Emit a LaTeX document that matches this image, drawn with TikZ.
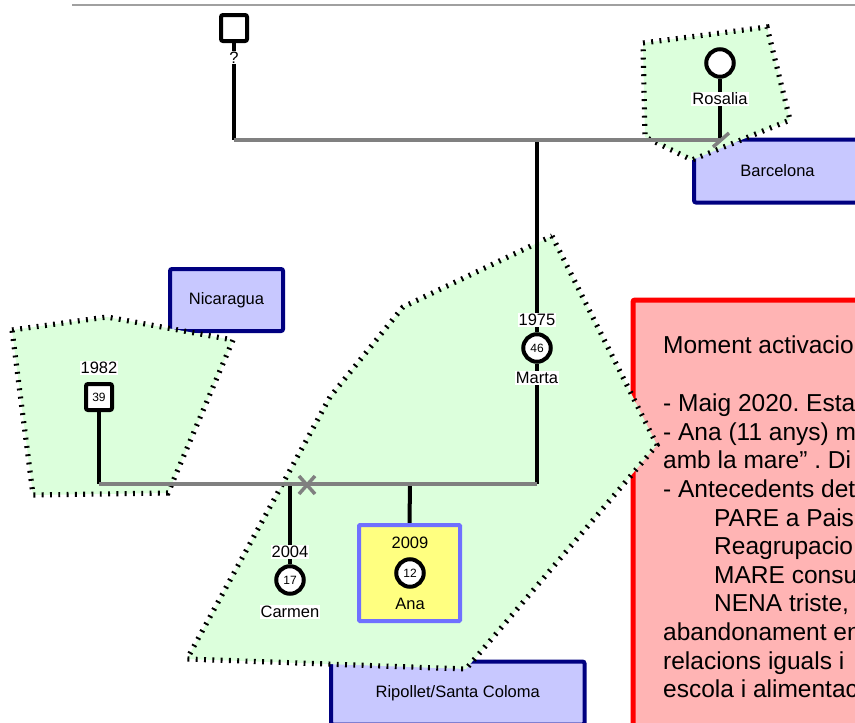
\documentclass[tikz,border=0pt]{standalone}
\usepackage{fontspec}
\setmainfont{Liberation Sans}
\definecolor{regfill}{RGB}{220,255,220}
\definecolor{boxfill}{RGB}{200,200,255}
\definecolor{boxline}{RGB}{0,0,128}
\definecolor{notefill}{RGB}{255,180,180}
\definecolor{noteline}{RGB}{255,0,0}
\definecolor{anafill}{RGB}{255,255,128}
\definecolor{analine}{RGB}{112,112,255}
\definecolor{coupleg}{RGB}{128,128,128}
\definecolor{topg}{RGB}{160,160,160}
\pgfdeclarelayer{back}
\pgfdeclarelayer{mid}
\pgfsetlayers{back,mid,main}
\frenchspacing
\begin{document}
\begin{tikzpicture}[x=1pt,y=-1pt,
  lbl/.style={font=\fontsize{16.5}{18}\selectfont, fill=white, inner sep=1pt},
  lblnf/.style={font=\fontsize{16.5}{18}\selectfont, inner sep=1pt},
  age/.style={font=\fontsize{12}{13}\selectfont},
  female/.style={circle, draw=black, line width=4pt, fill=white, minimum size=27.5pt, inner sep=0pt, age},
  male/.style={rectangle, rounded corners=2pt, draw=black, line width=4pt, fill=white, minimum size=26pt, inner sep=0pt, age},
  place/.style={rectangle, draw=boxline, fill=boxfill, line width=4pt, rounded corners=2pt, font=\fontsize{16.5}{18}\selectfont, inner sep=0pt},
  region/.style={fill=regfill, postaction={draw=black, line width=5.2pt, dash pattern=on 1.9pt off 6.4pt}},
  couple/.style={draw=coupleg, line width=3.5pt},
  desc/.style={draw=black, line width=4pt},
  notetxt/.style={font=\fontsize{24.5}{28}\selectfont, anchor=base west, inner sep=0pt},
]
\useasboundingbox (0,0) rectangle (855,723);
\clip (0,0) rectangle (855,723);

\begin{pgfonlayer}{back}
  \coordinate (tl1) at (72,5);
  \coordinate (tl2) at (855,5);
  \draw[topg, line width=1.5pt] (tl1) -- (tl2);
  \node[place, minimum width=113pt, minimum height=62pt] (nic) at (226.5,300) {Nicaragua};
  \node[place, minimum width=167pt, minimum height=63pt] (bcn) at (777.5,171) {Barcelona};
  \node[place, minimum width=253.5pt, minimum height=63pt] (rip) at (457.75,693) {Ripollet/Santa Coloma};
  \node[rectangle, draw=noteline, fill=notefill, line width=5pt, rounded corners=2pt, minimum width=267pt, minimum height=460pt] (note) at (766.5,530) {};
  % regions
  \path[region] (643,43) -- (767,27) -- (790,120) -- (692,160) -- (645,137) -- cycle;
  \path[region] (12,330) -- (107,317) -- (233,340) -- (168,493) -- (33,495) -- cycle;
  \path[region] (552,236) -- (657,445) -- (466,669) -- (187,659) -- (330,397) -- (403,307) -- cycle;
\end{pgfonlayer}

% persons
\node[draw=analine, fill=anafill, line width=4pt, rounded corners=1pt, minimum width=101pt, minimum height=96pt] (anabox) at (409.5,573) {};
\node[male] (q) at (234,28) {};
\node[lbl] (qlbl) at (234,57.5) {?};
\node[female] (ros) at (720,63) {};
\node[lbl] (roslbl) at (720,99) {Rosalia};
\node[female] (mar) at (537,348) {46};
\node[lbl] (marY) at (537,320) {1975};
\node[lbl] (marN) at (537,378) {Marta};
\node[male] (dad) at (99,397) {39};
\node[lbl] (dadY) at (99,368) {1982};
\node[female] (car) at (290,580) {17};
\node[lbl] (carY) at (290,552) {2004};
\node[lbl] (carN) at (290,612) {Carmen};
\node[female] (ana) at (410,573) {12};
\node[lblnf] (anaY) at (410,543) {2009};
\node[lblnf] (anaN) at (410,604) {Ana};

% junctions
\coordinate (j1) at (234,140);
\coordinate (j2) at (720,140);
\coordinate (m1) at (537,140);
\coordinate (m2) at (537,484);
\coordinate (d1) at (99,484);
\coordinate (c1) at (290,484);
\coordinate (a1) at (410,484);
\coordinate (s1) at (729,133);
\coordinate (s2) at (713,147);
\coordinate (x1) at (299,476);
\coordinate (x2) at (315,494);
\coordinate (x3) at (315,476);
\coordinate (x4) at (299,494);

\begin{pgfonlayer}{mid}
  \draw[desc] (q) -- (j1);
  \draw[desc] (ros) -- (j2);
  \draw[desc] (m1) -- (mar) -- (m2);
  \draw[desc] (dad) -- (d1);
  \draw[desc] (c1) -- (car);
  \draw[desc] (a1) -- (anabox.north);
  \draw[couple] (j1) -- (j2);
  \draw[couple] (s1) -- (s2);
  \draw[couple] (d1) -- (m2);
  \draw[couple] (x1) -- (x2);
  \draw[couple] (x3) -- (x4);
\end{pgfonlayer}

% note text
\node[notetxt] (n1) at (663,353) {Moment activacio};
\node[notetxt] (n2) at (663,411.7) {- Maig 2020. Esta};
\node[notetxt] (n3) at (663,440.3) {- Ana (11 anys) m};
\node[notetxt] (n4) at (663,468.9) {amb la mare{\char"22} . Di};
\node[notetxt] (n5) at (663,497.5) {- Antecedents det};
\node[notetxt] (n6) at (714,526.1) {PARE a Pais};
\node[notetxt] (n7) at (714,554.7) {Reagrupacio};
\node[notetxt] (n8) at (714,583.3) {MARE consu};
\node[notetxt] (n9) at (714,611.9) {NENA triste,};
\node[notetxt] (n10) at (663,640.5) {abandonament en};
\node[notetxt] (n11) at (663,669.1) {relacions iguals i};
\node[notetxt] (n12) at (663,697.7) {escola i alimentac};
\end{tikzpicture}
\end{document}
